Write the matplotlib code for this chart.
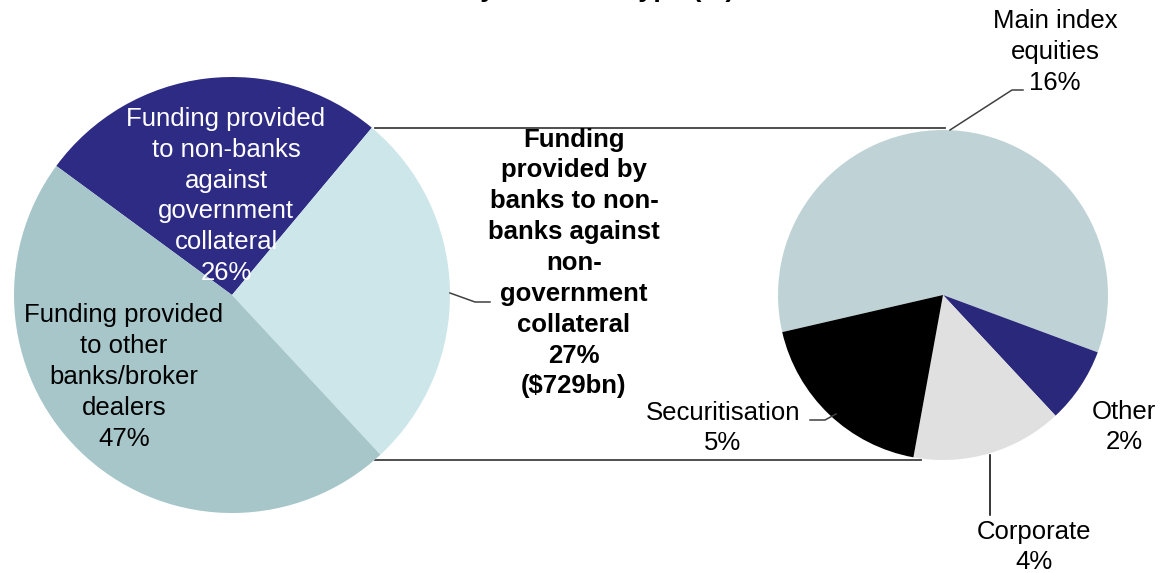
import matplotlib
matplotlib.use("Agg")
import matplotlib.pyplot as plt

plt.rcParams['font.family'] = ['Liberation Sans', 'DejaVu Sans']

# ---- data ----
main_labels = ["Funding provided\nto non-banks\nagainst\ngovernment\ncollateral",
               "Funding\nprovided by\nbanks to non-\nbanks against\nnon-\ngovernment\ncollateral",
               "Funding provided\nto other\nbanks/broker\ndealers"]
main_values = [26, 27, 47]
main_colors = ["#2E2B85", "#CDE6EA", "#A6C6C9"]
nongov_amount = "$729bn"

sub_labels = ["Main index\nequities", "Other", "Corporate", "Securitisation"]
sub_values = [16, 2, 4, 5]
sub_colors = ["#BFD3D6", "#29287A", "#E0E0E0", "#000000"]

title = "Breakdown by collateral type (%)"

W, H = 1166, 573
fig = plt.figure(figsize=(W / 100, H / 100), dpi=100)
ax = fig.add_axes([0, 0, 1, 1])

def Y(py):
    return H - py

# left pie
lc = (232, Y(295)); lr = 218
ax.pie(main_values, center=lc, radius=lr, startangle=143.7, counterclock=False,
       colors=main_colors, wedgeprops=dict(linewidth=0))
# right pie
rc = (943, Y(295)); rr = 165
ax.pie(sub_values, center=rc, radius=rr, startangle=193, counterclock=False,
       colors=sub_colors, wedgeprops=dict(linewidth=0))

ax.set_xlim(0, W)
ax.set_ylim(0, H)
ax.set_aspect('equal')
ax.axis('off')

fs = 18.5
ls = 1.36
line_col = "#404040"

# connecting lines
ax.plot([375, 945], [Y(128), Y(128)], color=line_col, lw=1.3, zorder=0)
ax.plot([375, 921], [Y(460), Y(460)], color=line_col, lw=1.3, zorder=0)

# left pie labels
ax.text(226, Y(196), f"{main_labels[0]}\n{main_values[0]}%", ha='center', va='center',
        fontsize=fs, color='white', linespacing=ls)
ax.text(124, Y(377), f"{main_labels[2]}\n{main_values[2]}%", ha='center', va='center',
        fontsize=fs, color='black', linespacing=ls)
ax.text(574, Y(263), f"{main_labels[1]}\n{main_values[1]}%\n({nongov_amount})", ha='center',
        va='center', fontsize=fs, color='black', fontweight='bold', linespacing=ls)
ax.plot([450, 475, 490], [Y(293), Y(302), Y(302)], color=line_col, lw=1.1)

# right pie labels
ax.text(1055, Y(52), f"{sub_labels[0]}\n{sub_values[0]}%", ha='center', va='center',
        fontsize=fs, linespacing=ls)
ax.plot([950, 1012, 1023], [Y(130), Y(90), Y(90)], color=line_col, lw=1.1)

ax.text(1124, Y(427), f"{sub_labels[1]}\n{sub_values[1]}%", ha='center', va='center',
        fontsize=fs, linespacing=ls)

ax.text(1034, Y(547), f"{sub_labels[2]}\n{sub_values[2]}%", ha='center', va='center',
        fontsize=fs, linespacing=ls)
ax.plot([990, 990], [Y(455), Y(515)], color='black', lw=1.1)

ax.text(723, Y(428), f"{sub_labels[3]}\n{sub_values[3]}%", ha='center', va='center',
        fontsize=fs, linespacing=ls)
ax.plot([810, 825, 836], [Y(420), Y(420), Y(414)], color=line_col, lw=1.1)

# title (only its descenders are visible at the top edge in the reference)
ax.text(734, Y(-3.5), title, ha='right', va='baseline', fontsize=19.5, fontweight='bold')

fig.savefig("out.png", dpi=100)
